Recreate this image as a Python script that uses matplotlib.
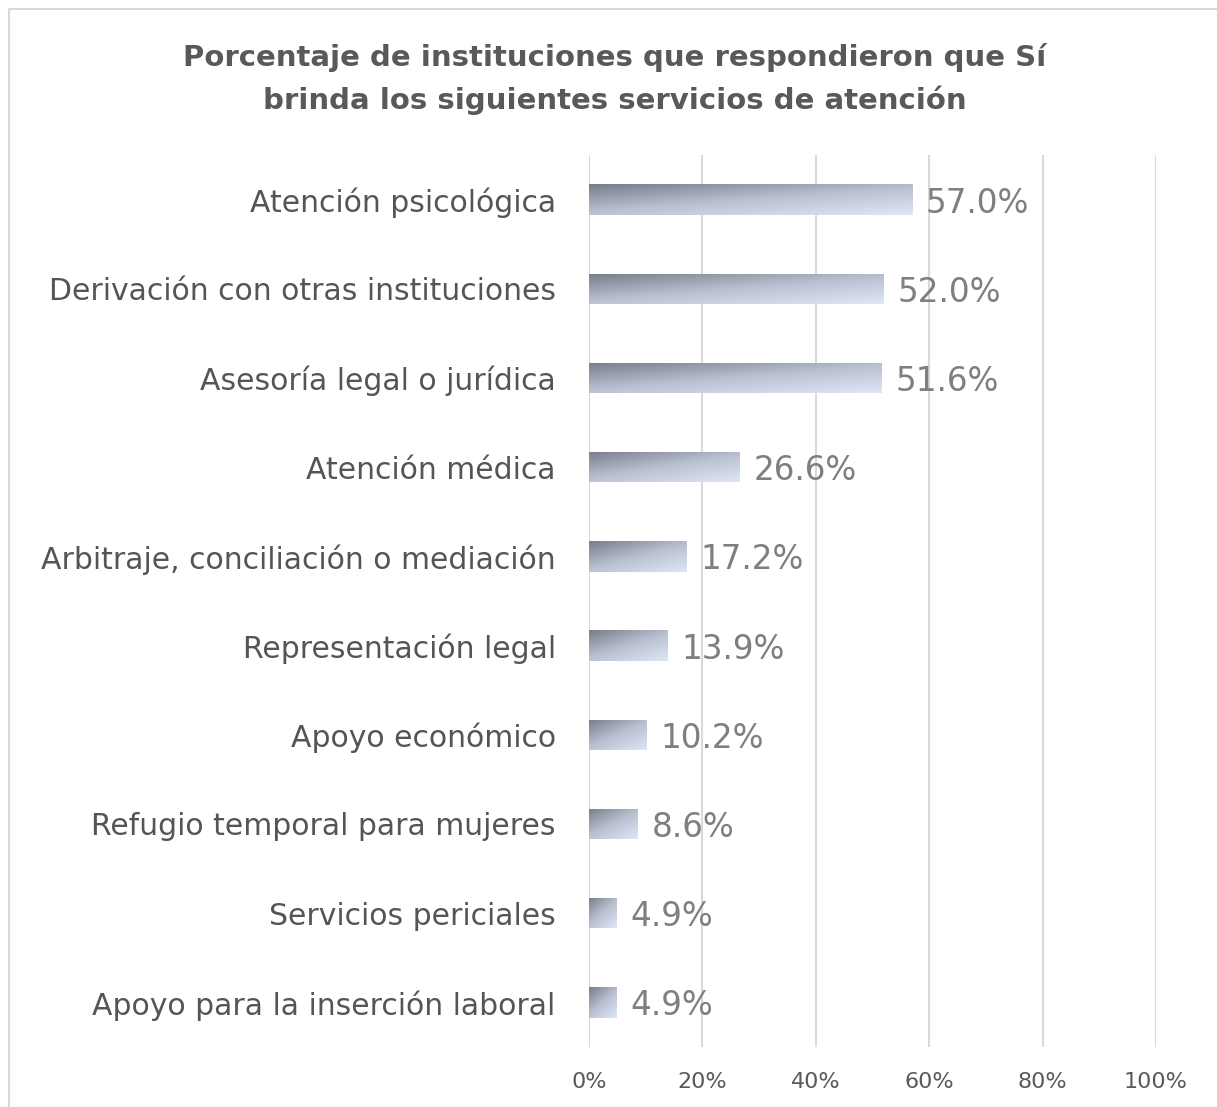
import matplotlib
matplotlib.use("Agg")
import matplotlib.pyplot as plt
import numpy as np
from matplotlib.patches import Rectangle
from matplotlib.colors import LinearSegmentedColormap

categories = ["Atención psicológica", "Derivación con otras instituciones",
              "Asesoría legal o jurídica", "Atención médica",
              "Arbitraje, conciliación o mediación", "Representación legal",
              "Apoyo económico", "Refugio temporal para mujeres",
              "Servicios periciales", "Apoyo para la inserción laboral"]
values = [57.0, 52.0, 51.6, 26.6, 17.2, 13.9, 10.2, 8.6, 4.9, 4.9]
xticks = [0, 20, 40, 60, 80, 100]
title = "Porcentaje de instituciones que respondieron que Sí\nbrinda los siguientes servicios de atención"

plt.rcParams['font.family'] = ['DejaVu Sans']
W, H = 1217, 1107
fig = plt.figure(figsize=(W/100, H/100), dpi=100)
fig.patch.set_facecolor("white")

# outer frame
fig.add_artist(Rectangle((9/W, -0.01), 1.2, 1 - 9/H + 0.01, transform=fig.transFigure,
                         fill=False, edgecolor="#d9d9d9", linewidth=1.5))

left, right = 589/W, 1156/W
top, bottom = 1 - 155/H, 1 - 1047/H
ax = fig.add_axes([left, bottom, right - left, top - bottom])
ax.set_xlim(0, 100)
n = len(categories)
for s in ax.spines.values():
    s.set_visible(False)
ax.set_xticks(xticks)
ax.set_xticklabels([f"{t}%" for t in xticks], fontsize=16, color="#595959")
ax.tick_params(axis='x', length=0, pad=18)
ax.set_yticks(range(n))
ax.set_yticklabels(categories, fontsize=21.5, color="#555555")
ax.tick_params(axis='y', length=0, pad=24)
ax.grid(axis='x', color="#d9d9d9", linewidth=1.5)
ax.set_axisbelow(True)

cmap = LinearSegmentedColormap.from_list("g", ["#dfe6f6", "#b9c0d0", "#787d8a"])
bh = 0.34
yy, xx = np.mgrid[0:1:64j, 0:1:256j]
for i, v in enumerate(values):
    y0 = i - bh/2
    grad = 0.55 * (1 - yy) + 0.45 * (1 - xx)
    im = ax.imshow(grad, extent=[0, v, i + bh/2, i - bh/2], cmap=cmap, vmin=0, vmax=1,
                   aspect='auto', zorder=2, interpolation='bilinear', origin='upper')
    rect = Rectangle((0, y0), v, bh, facecolor='none', edgecolor='none', zorder=2)
    ax.add_patch(rect)
    im.set_clip_path(rect)
    ax.text(v + 2.4, i + 0.04, f"{v:.1f}%", va='center', ha='left', fontsize=23.5,
            color="#7f7f7f", zorder=3)
ax.set_ylim(n - 0.5, -0.5)
ax.set_xlim(0, 100)

fig.text(615/W, 1 - 79/H, title, ha='center', va='center', fontsize=21,
         color="#595959", fontweight='bold', linespacing=1.55)

fig.savefig("out.png", dpi=100, facecolor="white")
